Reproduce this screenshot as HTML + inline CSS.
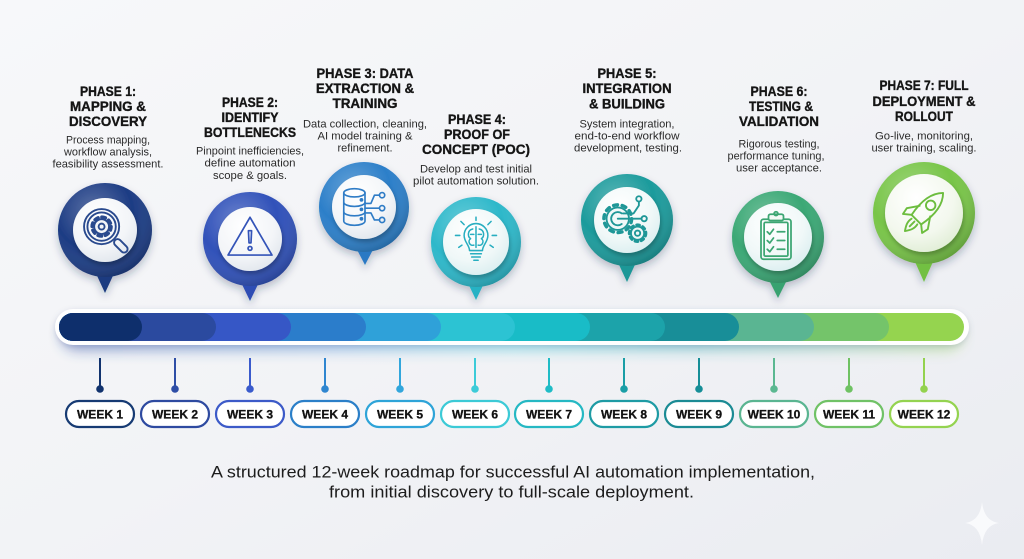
<!DOCTYPE html>
<html><head><meta charset="utf-8"><style>
html,body{margin:0;padding:0;width:1024px;height:559px;overflow:hidden;background:#f1f2f5}
svg{display:block}
text{font-family:"Liberation Sans",Arial,sans-serif}
.t{font-weight:bold;font-size:13.5px;fill:#151515;text-anchor:middle;stroke:#151515;stroke-width:0.35}
.d{font-size:11px;fill:#2a2a2a;text-anchor:middle}
.w{font-weight:bold;font-size:12px;fill:#111;text-anchor:middle;stroke:#111;stroke-width:0.3}
.ic{fill:none;stroke-width:1.4;stroke-linecap:round;stroke-linejoin:round}
</style></head><body>
<svg width="1024" height="559" viewBox="0 0 1024 559" xmlns="http://www.w3.org/2000/svg">
<defs>
<linearGradient id="bg" x1="0" y1="0" x2="1" y2="1">
<stop offset="0" stop-color="#f7f8fa"/><stop offset="0.5" stop-color="#f2f3f6"/><stop offset="1" stop-color="#eaecf1"/>
</linearGradient>
<linearGradient id="barg" x1="0" y1="0" x2="1" y2="0">
<stop offset="0" stop-color="#1b3c9a"/><stop offset="0.3" stop-color="#2f7fd0"/><stop offset="0.5" stop-color="#2cc6d6"/><stop offset="0.7" stop-color="#1aa0a8"/><stop offset="0.85" stop-color="#5ab592"/><stop offset="1" stop-color="#95d44f"/>
</linearGradient>
<radialGradient id="shade" cx="0.38" cy="0.3" r="0.75">
<stop offset="0" stop-color="#fff" stop-opacity="0.28"/><stop offset="0.55" stop-color="#fff" stop-opacity="0"/><stop offset="1" stop-color="#000" stop-opacity="0.22"/>
</radialGradient>
<radialGradient id="inner" cx="0.4" cy="0.3" r="0.8">
<stop offset="0" stop-color="#ffffff"/><stop offset="0.6" stop-color="#f3f5f8"/><stop offset="1" stop-color="#dde3ea"/>
</radialGradient>
<radialGradient id="innerG" cx="0.4" cy="0.3" r="0.8">
<stop offset="0" stop-color="#ffffff"/><stop offset="0.6" stop-color="#f3f8ee"/><stop offset="1" stop-color="#dcebd0"/>
</radialGradient>
<radialGradient id="innerT" cx="0.4" cy="0.3" r="0.8">
<stop offset="0" stop-color="#ffffff"/><stop offset="0.6" stop-color="#f0f8f8"/><stop offset="1" stop-color="#d6ecee"/>
</radialGradient>
<filter id="ps" x="-30%" y="-30%" width="160%" height="170%">
<feDropShadow dx="0" dy="4" stdDeviation="4" flood-color="#203050" flood-opacity="0.28"/>
</filter>
<filter id="is" x="-30%" y="-30%" width="160%" height="160%">
<feDropShadow dx="1" dy="3" stdDeviation="2.5" flood-color="#000" flood-opacity="0.28"/>
</filter>
<filter id="glow" x="-5%" y="-100%" width="110%" height="300%">
<feGaussianBlur stdDeviation="7"/>
</filter>
<filter id="bs" x="-5%" y="-60%" width="110%" height="220%">
<feDropShadow dx="0" dy="2" stdDeviation="3" flood-color="#6070a0" flood-opacity="0.25"/>
</filter>
</defs>

<rect width="1024" height="559" fill="url(#bg)"/>

<!-- sparkle -->
<path d="M982,502 Q984,521 999,523 Q984,525 982,545 Q980,525 965,523 Q980,521 982,502 Z" fill="#fbfcfe" opacity="0.85"/>

<!-- ===== TEXT BLOCKS ===== -->
<!-- Phase 1 -->
<text class="t" x="108" y="96" textLength="56" lengthAdjust="spacingAndGlyphs">PHASE 1:</text>
<text class="t" x="108" y="111" textLength="76" lengthAdjust="spacingAndGlyphs">MAPPING &amp;</text>
<text class="t" x="108" y="126" textLength="78" lengthAdjust="spacingAndGlyphs">DISCOVERY</text>
<text class="d" x="108" y="143.5" textLength="84" lengthAdjust="spacingAndGlyphs">Process mapping,</text>
<text class="d" x="108" y="155.5" textLength="88" lengthAdjust="spacingAndGlyphs">workflow analysis,</text>
<text class="d" x="108" y="167.5" textLength="111" lengthAdjust="spacingAndGlyphs">feasibility assessment.</text>

<!-- Phase 2 -->
<text class="t" x="250" y="107" textLength="56" lengthAdjust="spacingAndGlyphs">PHASE 2:</text>
<text class="t" x="250" y="122" textLength="57" lengthAdjust="spacingAndGlyphs">IDENTIFY</text>
<text class="t" x="250" y="137" textLength="92" lengthAdjust="spacingAndGlyphs">BOTTLENECKS</text>
<text class="d" x="250" y="154.5" textLength="108" lengthAdjust="spacingAndGlyphs">Pinpoint inefficiencies,</text>
<text class="d" x="250" y="166.5" textLength="91" lengthAdjust="spacingAndGlyphs">define automation</text>
<text class="d" x="250" y="179" textLength="74" lengthAdjust="spacingAndGlyphs">scope &amp; goals.</text>

<!-- Phase 3 -->
<text class="t" x="365" y="78" textLength="97" lengthAdjust="spacingAndGlyphs">PHASE 3: DATA</text>
<text class="t" x="365" y="93" textLength="98" lengthAdjust="spacingAndGlyphs">EXTRACTION &amp;</text>
<text class="t" x="365" y="108" textLength="65" lengthAdjust="spacingAndGlyphs">TRAINING</text>
<text class="d" x="365" y="127.5" textLength="124" lengthAdjust="spacingAndGlyphs">Data collection, cleaning,</text>
<text class="d" x="365" y="139.5" textLength="95" lengthAdjust="spacingAndGlyphs">AI model training &amp;</text>
<text class="d" x="365" y="151.5" textLength="55" lengthAdjust="spacingAndGlyphs">refinement.</text>

<!-- Phase 4 -->
<text class="t" x="477" y="124" textLength="58" lengthAdjust="spacingAndGlyphs">PHASE 4:</text>
<text class="t" x="477" y="139" textLength="66" lengthAdjust="spacingAndGlyphs">PROOF OF</text>
<text class="t" x="476" y="154" textLength="108" lengthAdjust="spacingAndGlyphs">CONCEPT (POC)</text>
<text class="d" x="476" y="172.5" textLength="112" lengthAdjust="spacingAndGlyphs">Develop and test initial</text>
<text class="d" x="476" y="184.5" textLength="126" lengthAdjust="spacingAndGlyphs">pilot automation solution.</text>

<!-- Phase 5 -->
<text class="t" x="627" y="78" textLength="59" lengthAdjust="spacingAndGlyphs">PHASE 5:</text>
<text class="t" x="627" y="93" textLength="89" lengthAdjust="spacingAndGlyphs">INTEGRATION</text>
<text class="t" x="627" y="108.5" textLength="76" lengthAdjust="spacingAndGlyphs">&amp; BUILDING</text>
<text class="d" x="627" y="127.5" textLength="95" lengthAdjust="spacingAndGlyphs">System integration,</text>
<text class="d" x="627" y="139.5" textLength="105" lengthAdjust="spacingAndGlyphs">end-to-end workflow</text>
<text class="d" x="628" y="151.5" textLength="108" lengthAdjust="spacingAndGlyphs">development, testing.</text>

<!-- Phase 6 -->
<text class="t" x="779" y="96" textLength="57" lengthAdjust="spacingAndGlyphs">PHASE 6:</text>
<text class="t" x="781" y="111" textLength="64" lengthAdjust="spacingAndGlyphs">TESTING &amp;</text>
<text class="t" x="779" y="126" textLength="80" lengthAdjust="spacingAndGlyphs">VALIDATION</text>
<text class="d" x="779" y="147.5" textLength="81" lengthAdjust="spacingAndGlyphs">Rigorous testing,</text>
<text class="d" x="776" y="159.5" textLength="97" lengthAdjust="spacingAndGlyphs">performance tuning,</text>
<text class="d" x="779" y="171.5" textLength="86" lengthAdjust="spacingAndGlyphs">user acceptance.</text>

<!-- Phase 7 -->
<text class="t" x="924" y="90" textLength="89" lengthAdjust="spacingAndGlyphs">PHASE 7: FULL</text>
<text class="t" x="924" y="106" textLength="103" lengthAdjust="spacingAndGlyphs">DEPLOYMENT &amp;</text>
<text class="t" x="924" y="121" textLength="58" lengthAdjust="spacingAndGlyphs">ROLLOUT</text>
<text class="d" x="924" y="139.5" textLength="98" lengthAdjust="spacingAndGlyphs">Go-live, monitoring,</text>
<text class="d" x="924" y="151.5" textLength="105" lengthAdjust="spacingAndGlyphs">user training, scaling.</text>

<!-- ===== PINS ===== -->
<!-- Pin 1 -->
<g filter="url(#ps)">
<path d="M93,267 L117,267 L105,293 Z" fill="#1b3a80"/>
<circle cx="105" cy="230" r="47" fill="#1d3c84"/>
<circle cx="105" cy="230" r="47" fill="url(#shade)"/>
</g>
<circle cx="105" cy="230" r="32" fill="url(#inner)" filter="url(#is)"/>
<g class="ic" stroke="#2a4a8e" transform="translate(107,232) scale(1.35)">
<circle cx="-4" cy="-4" r="13"/>
<circle cx="-4" cy="-4" r="10.5"/>
<circle cx="-4" cy="-4" r="7" stroke-width="2.6" stroke-dasharray="2.6 2.9"/>
<circle cx="-4" cy="-4" r="5.5" fill="#f3f5f8"/>
<circle cx="-4" cy="-4" r="2.2"/>
<rect x="-2.6" y="0" width="5.2" height="12" rx="2.6" transform="translate(6,6) rotate(-45)"/>
</g>

<!-- Pin 2 -->
<g filter="url(#ps)">
<path d="M238,276 L262,276 L250,301 Z" fill="#2d4db4"/>
<circle cx="250" cy="239" r="47" fill="#3051b9"/>
<circle cx="250" cy="239" r="47" fill="url(#shade)"/>
</g>
<circle cx="250" cy="239" r="32" fill="url(#inner)" filter="url(#is)"/>
<g class="ic" stroke="#3454b8" transform="translate(250,238) scale(1.22)">
<path d="M0,-17 L18,14 L-18,14 Z"/>
<path d="M-1.3,-6 L1.3,-6 L0.8,4 L-0.8,4 Z"/>
<circle cx="0" cy="8.5" r="1.6"/>
</g>

<!-- Pin 3 -->
<g filter="url(#ps)">
<path d="M353,242 L377,242 L365,265 Z" fill="#2a79c4"/>
<circle cx="364" cy="207" r="45" fill="#2c7fc9"/>
<circle cx="364" cy="207" r="45" fill="url(#shade)"/>
</g>
<circle cx="364" cy="207" r="32" fill="url(#inner)" filter="url(#is)"/>
<g class="ic" stroke="#2f7cc6" transform="translate(365,207) scale(1.18)">
<ellipse cx="-9" cy="-12" rx="9" ry="3.5"/>
<path d="M-18,-12 V12 A9,3.5 0 0 0 0,12 V-12"/>
<path d="M-18,-4 A9,3.5 0 0 0 0,-4 M-18,4 A9,3.5 0 0 0 0,4"/>
<circle cx="-3" cy="-6" r="0.9" fill="#2f7cc6"/>
<circle cx="-3" cy="2" r="0.9" fill="#2f7cc6"/>
<circle cx="-3" cy="10" r="0.9" fill="#2f7cc6"/>
<path d="M0,-3 H5 L8,-10 H12 M0,1 H12 M0,5 H5 L8,11 H12"/>
<circle cx="14.5" cy="-10" r="2.2"/>
<circle cx="14.5" cy="1" r="2.2"/>
<circle cx="14.5" cy="11" r="2.2"/>
</g>

<!-- Pin 4 -->
<g filter="url(#ps)">
<path d="M465,277 L487,277 L476,300 Z" fill="#28b2c4"/>
<circle cx="476" cy="242" r="45" fill="#2db8ca"/>
<circle cx="476" cy="242" r="45" fill="url(#shade)"/>
</g>
<circle cx="476" cy="242" r="33" fill="url(#innerT)" filter="url(#is)"/>
<g class="ic" stroke="#28aec0" transform="translate(476,243) scale(1.08)">
<path d="M-6,7 C-6,2 -11,-1 -11,-7 A11,11 0 0 1 11,-7 C11,-1 6,2 6,7 Z"/>
<path d="M-5,10 H5 M-4,13 H4 M-2,16 H2"/>
<path d="M0,-15 V4 M-3,-13 C-8,-12 -8,-6 -5,-4 C-8,-2 -6,3 -2,2 M3,-13 C8,-12 8,-6 5,-4 C8,-2 6,3 2,2 M-5,-8 H-2 M5,-8 H2"/>
<path d="M0,-21 V-24 M-11,-17 L-14,-20 M11,-17 L14,-20 M-15,-7 H-19 M15,-7 H19 M-13,2 L-16,4 M13,2 L16,4"/>
</g>

<!-- Pin 5 -->
<g filter="url(#ps)">
<path d="M615,256 L639,256 L627,282 Z" fill="#1a9797"/>
<circle cx="627" cy="220" r="46" fill="#1c9b9c"/>
<circle cx="627" cy="220" r="46" fill="url(#shade)"/>
</g>
<circle cx="627" cy="220" r="33" fill="url(#innerT)" filter="url(#is)"/>
<g class="ic" stroke="#1f9797" transform="translate(627,220) scale(1.32)">
<circle cx="-7" cy="-1" r="10.5" stroke-width="2.6" stroke-dasharray="3 3.6"/>
<circle cx="-7" cy="-1" r="8.5" fill="#f0f8f8"/>
<path d="M-4,-5 A5,5 0 1 0 -4,3"/>
<path d="M-7,-1 H11 M-3,-5 H5 L9,-11 V-14"/>
<circle cx="13" cy="-1" r="2"/>
<circle cx="9" cy="-16" r="2"/>
<circle cx="8" cy="10" r="6.3" stroke-width="2.2" stroke-dasharray="2.2 2.6"/>
<circle cx="8" cy="10" r="5" fill="#eef7f7"/>
<circle cx="8" cy="10" r="2"/>
</g>

<!-- Pin 6 -->
<g filter="url(#ps)">
<path d="M766,274 L790,274 L778,298 Z" fill="#37a26f"/>
<circle cx="778" cy="237" r="46" fill="#3ba875"/>
<circle cx="778" cy="237" r="46" fill="url(#shade)"/>
</g>
<circle cx="778" cy="237" r="34" fill="url(#innerT)" filter="url(#is)"/>
<g class="ic" stroke="#3da673" transform="translate(776,238) scale(1.25)">
<rect x="-12" y="-15" width="24" height="32" rx="2"/>
<rect x="-9.5" y="-12.5" width="19" height="27" rx="1"/>
<rect x="-6" y="-19" width="12" height="5" rx="1.5" fill="#f4f9f6"/>
<circle cx="0" cy="-19.5" r="1.5"/>
<path d="M-7,-5 L-5,-3 L-2,-7 M1,-5 H7 M-7,2 L-5,4 L-2,0 M1,2 H7 M-7,9 L-5,11 L-2,7 M1,9 H7"/>
</g>

<!-- Pin 7 -->
<g filter="url(#ps)">
<path d="M912,255 L936,255 L924,282 Z" fill="#72c043"/>
<circle cx="924" cy="213" r="51" fill="#78c548"/>
<circle cx="924" cy="213" r="51" fill="url(#shade)"/>
</g>
<circle cx="924" cy="213" r="39" fill="url(#innerG)" filter="url(#is)"/>
<g class="ic" stroke="#6cbd3e" transform="translate(924,212) rotate(45) scale(1.35)">
<path d="M0,-20 C7,-13 7,-2 5,8 H-5 C-7,-2 -7,-13 0,-20 Z"/>
<circle cx="0" cy="-7" r="3.5"/>
<path d="M-5.5,-1 L-11,7 L-10,12 L-5,8 M5.5,-1 L11,7 L10,12 L5,8"/>
<path d="M-3,10 C-4,14 -2,17 0,20 C2,17 4,14 3,10 M0,10 V15"/>
</g>

<!-- ===== TIMELINE BAR ===== -->
<rect x="62" y="320" width="900" height="30" rx="15" fill="url(#barg)" opacity="0.45" filter="url(#glow)"/>
<rect x="55" y="309" width="914" height="36" rx="18" fill="#ffffff" filter="url(#bs)"/>
<g>
<rect x="59" y="313" width="905" height="28" rx="14" fill="#95d44f"/>
<rect x="59" y="313" width="830" height="28" rx="14" fill="#74c46a"/>
<rect x="59" y="313" width="755" height="28" rx="14" fill="#5ab592"/>
<rect x="59" y="313" width="680" height="28" rx="14" fill="#188e98"/>
<rect x="59" y="313" width="606" height="28" rx="14" fill="#1ca3aa"/>
<rect x="59" y="313" width="531" height="28" rx="14" fill="#19bcc7"/>
<rect x="59" y="313" width="456" height="28" rx="14" fill="#2cc3d3"/>
<rect x="59" y="313" width="382" height="28" rx="14" fill="#2fa1d9"/>
<rect x="59" y="313" width="307" height="28" rx="14" fill="#2b7dcb"/>
<rect x="59" y="313" width="232" height="28" rx="14" fill="#3657c6"/>
<rect x="59" y="313" width="157" height="28" rx="14" fill="#2b4a9f"/>
<rect x="59" y="313" width="83" height="28" rx="14" fill="#0e2f6c"/>
</g>

<!-- ===== STEMS & WEEKS ===== -->
<g stroke-width="2">
<line x1="100" y1="358" x2="100" y2="388" stroke="#12336e"/><circle cx="100" cy="389" r="3.8" fill="#12336e"/>
<line x1="175" y1="358" x2="175" y2="388" stroke="#2e4ea6"/><circle cx="175" cy="389" r="3.8" fill="#2e4ea6"/>
<line x1="250" y1="358" x2="250" y2="388" stroke="#3a5bcc"/><circle cx="250" cy="389" r="3.8" fill="#3a5bcc"/>
<line x1="325" y1="358" x2="325" y2="388" stroke="#2f86d0"/><circle cx="325" cy="389" r="3.8" fill="#2f86d0"/>
<line x1="400" y1="358" x2="400" y2="388" stroke="#32a6dc"/><circle cx="400" cy="389" r="3.8" fill="#32a6dc"/>
<line x1="475" y1="358" x2="475" y2="388" stroke="#3ccbd8"/><circle cx="475" cy="389" r="3.8" fill="#3ccbd8"/>
<line x1="549" y1="358" x2="549" y2="388" stroke="#1fbcc6"/><circle cx="549" cy="389" r="3.8" fill="#1fbcc6"/>
<line x1="624" y1="358" x2="624" y2="388" stroke="#1a9ea6"/><circle cx="624" cy="389" r="3.8" fill="#1a9ea6"/>
<line x1="699" y1="358" x2="699" y2="388" stroke="#168e97"/><circle cx="699" cy="389" r="3.8" fill="#168e97"/>
<line x1="774" y1="358" x2="774" y2="388" stroke="#5bb891"/><circle cx="774" cy="389" r="3.8" fill="#5bb891"/>
<line x1="849" y1="358" x2="849" y2="388" stroke="#6fc263"/><circle cx="849" cy="389" r="3.8" fill="#6fc263"/>
<line x1="924" y1="358" x2="924" y2="388" stroke="#93d24e"/><circle cx="924" cy="389" r="3.8" fill="#93d24e"/>
</g>

<g fill="#ffffff" stroke-width="2.2">
<rect x="66" y="401" width="68" height="26" rx="13" stroke="#163a73"/>
<rect x="141" y="401" width="68" height="26" rx="13" stroke="#2e4aa0"/>
<rect x="216" y="401" width="68" height="26" rx="13" stroke="#3c5ac8"/>
<rect x="291" y="401" width="68" height="26" rx="13" stroke="#2b7fc8"/>
<rect x="366" y="401" width="68" height="26" rx="13" stroke="#2ea4d8"/>
<rect x="441" y="401" width="68" height="26" rx="13" stroke="#3ccad6"/>
<rect x="515" y="401" width="68" height="26" rx="13" stroke="#25b8c3"/>
<rect x="590" y="401" width="68" height="26" rx="13" stroke="#1e9ba4"/>
<rect x="665" y="401" width="68" height="26" rx="13" stroke="#1b8b94"/>
<rect x="740" y="401" width="68" height="26" rx="13" stroke="#5ab591"/>
<rect x="815" y="401" width="68" height="26" rx="13" stroke="#70c266"/>
<rect x="890" y="401" width="68" height="26" rx="13" stroke="#94d350"/>
</g>
<text class="w" x="100" y="418.5">WEEK 1</text>
<text class="w" x="175" y="418.5">WEEK 2</text>
<text class="w" x="250" y="418.5">WEEK 3</text>
<text class="w" x="325" y="418.5">WEEK 4</text>
<text class="w" x="400" y="418.5">WEEK 5</text>
<text class="w" x="475" y="418.5">WEEK 6</text>
<text class="w" x="549" y="418.5">WEEK 7</text>
<text class="w" x="624" y="418.5">WEEK 8</text>
<text class="w" x="699" y="418.5">WEEK 9</text>
<text class="w" x="774" y="418.5">WEEK 10</text>
<text class="w" x="849" y="418.5">WEEK 11</text>
<text class="w" x="924" y="418.5">WEEK 12</text>

<!-- ===== CAPTION ===== -->
<text x="513" y="477.5" text-anchor="middle" font-size="16.5" fill="#1c1c1c" textLength="604" lengthAdjust="spacingAndGlyphs">A structured 12-week roadmap for successful AI automation implementation,</text>
<text x="511.5" y="497.5" text-anchor="middle" font-size="16.5" fill="#1c1c1c" textLength="365" lengthAdjust="spacingAndGlyphs">from initial discovery to full-scale deployment.</text>
</svg>
</body></html>
